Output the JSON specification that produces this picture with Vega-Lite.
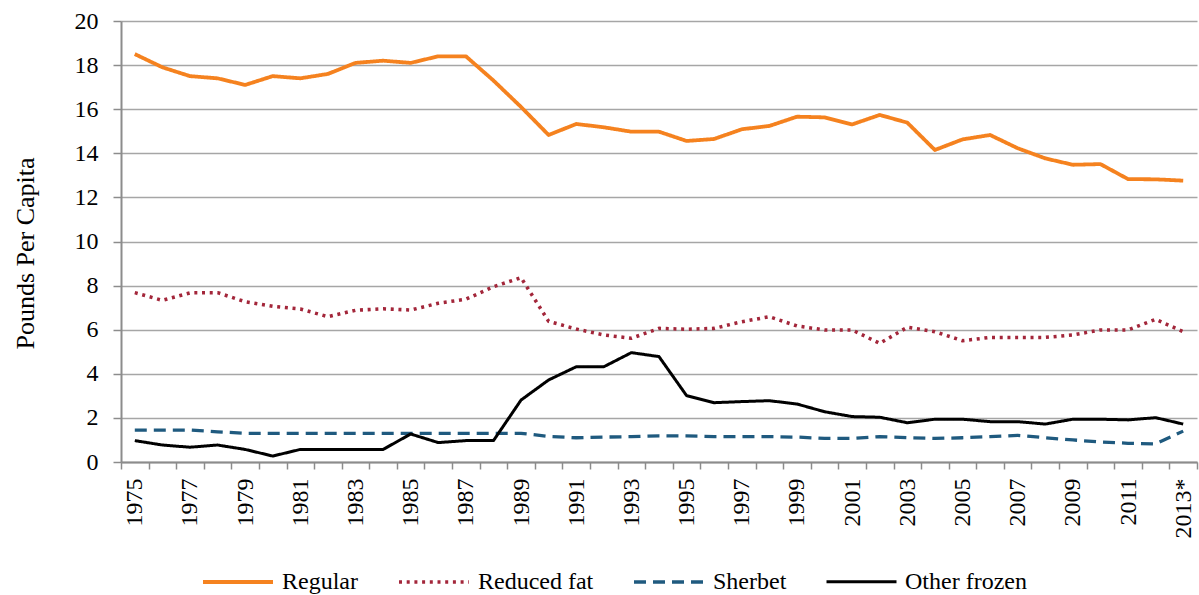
{
  "$schema": "https://vega.github.io/schema/vega-lite/v6.json",
  "autosize": "none",
  "width": 1076,
  "height": 441,
  "padding": {"left": 121, "top": 21, "right": 2, "bottom": 133},
  "background": "white",
  "config": {
    "view": {"stroke": null},
    "font": "Liberation Serif",
    "legend": {"padding": 0, "offset": 0, "labelFont": "Liberation Serif"}
  },
  "data": {
    "values": [
      {"year": 1975, "series": "Regular", "value": 18.5},
      {"year": 1976, "series": "Regular", "value": 17.9},
      {"year": 1977, "series": "Regular", "value": 17.5},
      {"year": 1978, "series": "Regular", "value": 17.4},
      {"year": 1979, "series": "Regular", "value": 17.1},
      {"year": 1980, "series": "Regular", "value": 17.5},
      {"year": 1981, "series": "Regular", "value": 17.4},
      {"year": 1982, "series": "Regular", "value": 17.6},
      {"year": 1983, "series": "Regular", "value": 18.1},
      {"year": 1984, "series": "Regular", "value": 18.2},
      {"year": 1985, "series": "Regular", "value": 18.1},
      {"year": 1986, "series": "Regular", "value": 18.4},
      {"year": 1987, "series": "Regular", "value": 18.4},
      {"year": 1988, "series": "Regular", "value": 17.3},
      {"year": 1989, "series": "Regular", "value": 16.1},
      {"year": 1990, "series": "Regular", "value": 14.83},
      {"year": 1991, "series": "Regular", "value": 15.33},
      {"year": 1992, "series": "Regular", "value": 15.18},
      {"year": 1993, "series": "Regular", "value": 14.98},
      {"year": 1994, "series": "Regular", "value": 14.98},
      {"year": 1995, "series": "Regular", "value": 14.56},
      {"year": 1996, "series": "Regular", "value": 14.65},
      {"year": 1997, "series": "Regular", "value": 15.09},
      {"year": 1998, "series": "Regular", "value": 15.24},
      {"year": 1999, "series": "Regular", "value": 15.66},
      {"year": 2000, "series": "Regular", "value": 15.63},
      {"year": 2001, "series": "Regular", "value": 15.31},
      {"year": 2002, "series": "Regular", "value": 15.74},
      {"year": 2003, "series": "Regular", "value": 15.39},
      {"year": 2004, "series": "Regular", "value": 14.15},
      {"year": 2005, "series": "Regular", "value": 14.63},
      {"year": 2006, "series": "Regular", "value": 14.83},
      {"year": 2007, "series": "Regular", "value": 14.23},
      {"year": 2008, "series": "Regular", "value": 13.77},
      {"year": 2009, "series": "Regular", "value": 13.48},
      {"year": 2010, "series": "Regular", "value": 13.51},
      {"year": 2011, "series": "Regular", "value": 12.83},
      {"year": 2012, "series": "Regular", "value": 12.82},
      {"year": 2013, "series": "Regular", "value": 12.76},

      {"year": 1975, "series": "Reduced fat", "value": 7.68},
      {"year": 1976, "series": "Reduced fat", "value": 7.33},
      {"year": 1977, "series": "Reduced fat", "value": 7.67},
      {"year": 1978, "series": "Reduced fat", "value": 7.68},
      {"year": 1979, "series": "Reduced fat", "value": 7.27},
      {"year": 1980, "series": "Reduced fat", "value": 7.06},
      {"year": 1981, "series": "Reduced fat", "value": 6.94},
      {"year": 1982, "series": "Reduced fat", "value": 6.59},
      {"year": 1983, "series": "Reduced fat", "value": 6.88},
      {"year": 1984, "series": "Reduced fat", "value": 6.95},
      {"year": 1985, "series": "Reduced fat", "value": 6.89},
      {"year": 1986, "series": "Reduced fat", "value": 7.2},
      {"year": 1987, "series": "Reduced fat", "value": 7.38},
      {"year": 1988, "series": "Reduced fat", "value": 7.95},
      {"year": 1989, "series": "Reduced fat", "value": 8.36},
      {"year": 1990, "series": "Reduced fat", "value": 6.38},
      {"year": 1991, "series": "Reduced fat", "value": 6.03},
      {"year": 1992, "series": "Reduced fat", "value": 5.76},
      {"year": 1993, "series": "Reduced fat", "value": 5.61},
      {"year": 1994, "series": "Reduced fat", "value": 6.06},
      {"year": 1995, "series": "Reduced fat", "value": 6.02},
      {"year": 1996, "series": "Reduced fat", "value": 6.06},
      {"year": 1997, "series": "Reduced fat", "value": 6.36},
      {"year": 1998, "series": "Reduced fat", "value": 6.59},
      {"year": 1999, "series": "Reduced fat", "value": 6.17},
      {"year": 2000, "series": "Reduced fat", "value": 5.99},
      {"year": 2001, "series": "Reduced fat", "value": 5.99},
      {"year": 2002, "series": "Reduced fat", "value": 5.38},
      {"year": 2003, "series": "Reduced fat", "value": 6.11},
      {"year": 2004, "series": "Reduced fat", "value": 5.91},
      {"year": 2005, "series": "Reduced fat", "value": 5.5},
      {"year": 2006, "series": "Reduced fat", "value": 5.65},
      {"year": 2007, "series": "Reduced fat", "value": 5.65},
      {"year": 2008, "series": "Reduced fat", "value": 5.65},
      {"year": 2009, "series": "Reduced fat", "value": 5.76},
      {"year": 2010, "series": "Reduced fat", "value": 5.99},
      {"year": 2011, "series": "Reduced fat", "value": 5.99},
      {"year": 2012, "series": "Reduced fat", "value": 6.47},
      {"year": 2013, "series": "Reduced fat", "value": 5.91},

      {"year": 1975, "series": "Sherbet", "value": 1.45},
      {"year": 1976, "series": "Sherbet", "value": 1.45},
      {"year": 1977, "series": "Sherbet", "value": 1.45},
      {"year": 1978, "series": "Sherbet", "value": 1.37},
      {"year": 1979, "series": "Sherbet", "value": 1.3},
      {"year": 1980, "series": "Sherbet", "value": 1.3},
      {"year": 1981, "series": "Sherbet", "value": 1.3},
      {"year": 1982, "series": "Sherbet", "value": 1.3},
      {"year": 1983, "series": "Sherbet", "value": 1.3},
      {"year": 1984, "series": "Sherbet", "value": 1.3},
      {"year": 1985, "series": "Sherbet", "value": 1.3},
      {"year": 1986, "series": "Sherbet", "value": 1.3},
      {"year": 1987, "series": "Sherbet", "value": 1.3},
      {"year": 1988, "series": "Sherbet", "value": 1.3},
      {"year": 1989, "series": "Sherbet", "value": 1.3},
      {"year": 1990, "series": "Sherbet", "value": 1.16},
      {"year": 1991, "series": "Sherbet", "value": 1.1},
      {"year": 1992, "series": "Sherbet", "value": 1.13},
      {"year": 1993, "series": "Sherbet", "value": 1.15},
      {"year": 1994, "series": "Sherbet", "value": 1.19},
      {"year": 1995, "series": "Sherbet", "value": 1.18},
      {"year": 1996, "series": "Sherbet", "value": 1.15},
      {"year": 1997, "series": "Sherbet", "value": 1.15},
      {"year": 1998, "series": "Sherbet", "value": 1.15},
      {"year": 1999, "series": "Sherbet", "value": 1.13},
      {"year": 2000, "series": "Sherbet", "value": 1.07},
      {"year": 2001, "series": "Sherbet", "value": 1.07},
      {"year": 2002, "series": "Sherbet", "value": 1.15},
      {"year": 2003, "series": "Sherbet", "value": 1.1},
      {"year": 2004, "series": "Sherbet", "value": 1.07},
      {"year": 2005, "series": "Sherbet", "value": 1.1},
      {"year": 2006, "series": "Sherbet", "value": 1.15},
      {"year": 2007, "series": "Sherbet", "value": 1.21},
      {"year": 2008, "series": "Sherbet", "value": 1.1},
      {"year": 2009, "series": "Sherbet", "value": 1.0},
      {"year": 2010, "series": "Sherbet", "value": 0.91},
      {"year": 2011, "series": "Sherbet", "value": 0.85},
      {"year": 2012, "series": "Sherbet", "value": 0.82},
      {"year": 2013, "series": "Sherbet", "value": 1.4},

      {"year": 1975, "series": "Other frozen", "value": 0.97},
      {"year": 1976, "series": "Other frozen", "value": 0.77},
      {"year": 1977, "series": "Other frozen", "value": 0.67},
      {"year": 1978, "series": "Other frozen", "value": 0.77},
      {"year": 1979, "series": "Other frozen", "value": 0.57},
      {"year": 1980, "series": "Other frozen", "value": 0.27},
      {"year": 1981, "series": "Other frozen", "value": 0.57},
      {"year": 1982, "series": "Other frozen", "value": 0.57},
      {"year": 1983, "series": "Other frozen", "value": 0.57},
      {"year": 1984, "series": "Other frozen", "value": 0.57},
      {"year": 1985, "series": "Other frozen", "value": 1.27},
      {"year": 1986, "series": "Other frozen", "value": 0.88},
      {"year": 1987, "series": "Other frozen", "value": 0.97},
      {"year": 1988, "series": "Other frozen", "value": 0.97},
      {"year": 1989, "series": "Other frozen", "value": 2.81},
      {"year": 1990, "series": "Other frozen", "value": 3.72},
      {"year": 1991, "series": "Other frozen", "value": 4.32},
      {"year": 1992, "series": "Other frozen", "value": 4.32},
      {"year": 1993, "series": "Other frozen", "value": 4.96},
      {"year": 1994, "series": "Other frozen", "value": 4.78},
      {"year": 1995, "series": "Other frozen", "value": 3.01},
      {"year": 1996, "series": "Other frozen", "value": 2.69},
      {"year": 1997, "series": "Other frozen", "value": 2.74},
      {"year": 1998, "series": "Other frozen", "value": 2.78},
      {"year": 1999, "series": "Other frozen", "value": 2.63},
      {"year": 2000, "series": "Other frozen", "value": 2.28},
      {"year": 2001, "series": "Other frozen", "value": 2.06},
      {"year": 2002, "series": "Other frozen", "value": 2.03},
      {"year": 2003, "series": "Other frozen", "value": 1.78},
      {"year": 2004, "series": "Other frozen", "value": 1.94},
      {"year": 2005, "series": "Other frozen", "value": 1.94},
      {"year": 2006, "series": "Other frozen", "value": 1.83},
      {"year": 2007, "series": "Other frozen", "value": 1.83},
      {"year": 2008, "series": "Other frozen", "value": 1.72},
      {"year": 2009, "series": "Other frozen", "value": 1.94},
      {"year": 2010, "series": "Other frozen", "value": 1.94},
      {"year": 2011, "series": "Other frozen", "value": 1.91},
      {"year": 2012, "series": "Other frozen", "value": 2.01},
      {"year": 2013, "series": "Other frozen", "value": 1.72}
    ]
  },
  "mark": {"type": "line", "strokeJoin": "round"},
  "encoding": {
    "x": {
      "field": "year",
      "type": "ordinal",
      "scale": {"type": "band", "paddingInner": 0, "paddingOuter": 0},
      "axis": {
        "title": null,
        "tickBand": "extent",
        "labelAngle": 270,
        "labelExpr": "datum.value == 2013 ? '2013*' : (datum.value % 2 == 1 ? datum.value : '')",
        "labelFont": "Liberation Serif",
        "labelFontSize": 24,
        "labelColor": "black",
        "labelPadding": 9,
        "labelOverlap": false,
        "tickSize": 7,
        "tickColor": "#8c8c8c",
        "tickWidth": 1.5,
        "domainColor": "#8c8c8c",
        "domainWidth": 2,
        "grid": false
      }
    },
    "y": {
      "field": "value",
      "type": "quantitative",
      "scale": {"domain": [0, 20], "nice": false, "zero": true},
      "axis": {
        "title": "Pounds Per Capita",
        "titleFont": "Liberation Serif",
        "titleFontSize": 26,
        "titleFontWeight": "normal",
        "titleColor": "black",
        "titlePadding": 36,
        "titleY": 232,
        "values": [0, 2, 4, 6, 8, 10, 12, 14, 16, 18, 20],
        "labelFont": "Liberation Serif",
        "labelFontSize": 24,
        "labelColor": "black",
        "labelPadding": 15,
        "tickSize": 8,
        "tickColor": "#8c8c8c",
        "tickWidth": 1.5,
        "domainColor": "#8c8c8c",
        "domainWidth": 2,
        "grid": true,
        "gridColor": "#a6a6a6",
        "gridWidth": 1.6
      }
    },
    "color": {
      "field": "series",
      "type": "nominal",
      "sort": ["Regular", "Reduced fat", "Sherbet", "Other frozen"],
      "scale": {
        "domain": ["Regular", "Reduced fat", "Sherbet", "Other frozen"],
        "range": ["#f5821f", "#a3263a", "#1f5a7f", "#000000"]
      },
      "legend": {
        "title": null,
        "orient": "none",
        "legendX": 80,
        "legendY": 524,
        "direction": "horizontal",
        "symbolType": "stroke",
        "symbolSize": 4900,
        "labelFont": "Liberation Serif",
        "labelFontSize": 24,
        "labelColor": "black",
        "labelOffset": 7,
        "columnPadding": 33,
        "labelLimit": 300
      }
    },
    "strokeDash": {
      "field": "series",
      "type": "nominal",
      "sort": ["Regular", "Reduced fat", "Sherbet", "Other frozen"],
      "scale": {
        "domain": ["Regular", "Reduced fat", "Sherbet", "Other frozen"],
        "range": [[1, 0], [3, 4.7], [12, 7], [1, 0]]
      },
      "legend": null
    },
    "strokeWidth": {
      "field": "series",
      "type": "nominal",
      "sort": ["Regular", "Reduced fat", "Sherbet", "Other frozen"],
      "scale": {
        "domain": ["Regular", "Reduced fat", "Sherbet", "Other frozen"],
        "range": [3.8, 3, 4, 3.8]
      },
      "legend": null
    }
  }
}
